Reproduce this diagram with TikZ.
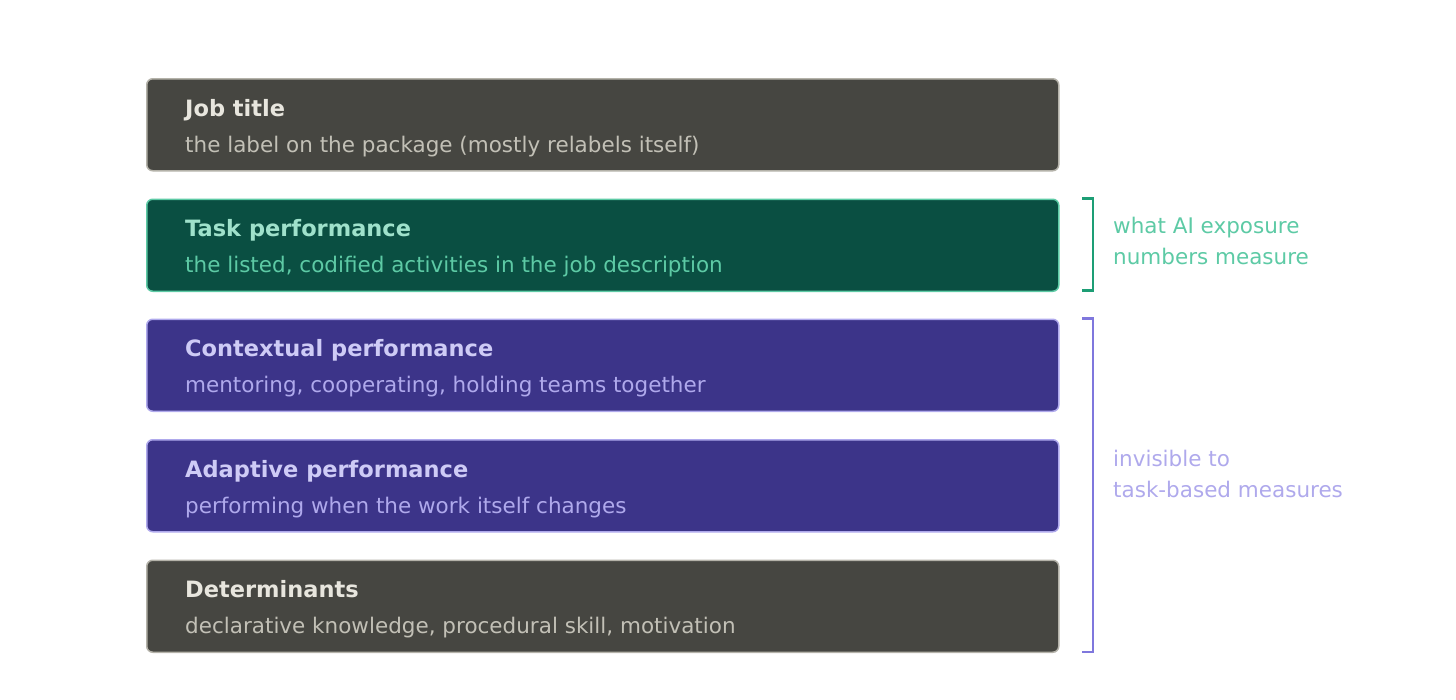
\documentclass[tikz,border=0pt]{standalone}
\usepackage{fontspec}
\setmainfont{DejaVu Sans}
\definecolor{grayfill}{HTML}{464641}
\definecolor{grayline}{HTML}{B4B2A9}
\definecolor{graytitle}{HTML}{E8E6DE}
\definecolor{graysub}{HTML}{C2C0B6}
\definecolor{greenfill}{HTML}{0A4F42}
\definecolor{greenline}{HTML}{5DCAA5}
\definecolor{greentitle}{HTML}{9FE1CB}
\definecolor{greensub}{HTML}{5DCAA5}
\definecolor{purpfill}{HTML}{3C3489}
\definecolor{purpline}{HTML}{AFA9EC}
\definecolor{purptitle}{HTML}{CECBF6}
\definecolor{purpsub}{HTML}{AFA9EC}
\definecolor{greenbr}{HTML}{1D9E75}
\definecolor{purpbr}{HTML}{7F77DD}
\tikzset{
  box/.style={draw, line width=1.5pt, rounded corners=6pt, minimum width=912pt, minimum height=92pt, inner sep=0pt, anchor=north west},
  ttl/.style={anchor=base west, inner sep=0pt, font=\fontsize{22.5}{26}\selectfont\bfseries},
  sub/.style={anchor=base west, inner sep=0pt, font=\fontsize{21.5}{24}\selectfont},
  side/.style={anchor=base west, inner sep=0pt, font=\fontsize{21.5}{24}\selectfont},
  brk/.style={line width=2.5pt}
}
\begin{document}
\begin{tikzpicture}[x=1pt,y=-1pt]
\useasboundingbox (0,0) rectangle (1456,699);
% boxes
\node[box, fill=grayfill, draw=grayline] (b1) at (146,78) {};
\node[box, fill=greenfill, draw=greenline] (b2) at (146,198.5) {};
\node[box, fill=purpfill, draw=purpline] (b3) at (146,318.5) {};
\node[box, fill=purpfill, draw=purpline] (b4) at (146,439) {};
\node[box, fill=grayfill, draw=grayline] (b5) at (146,559.5) {};
% texts
\node[ttl, text=graytitle] (t1) at (185,116) {Job title};
\node[sub, text=graysub] (s1) at (185,152) {the label on the package (mostly relabels itself)};
\node[ttl, text=greentitle] (t2) at (185,236.5) {Task performance};
\node[sub, text=greensub] (s2) at (185,272.5) {the listed, codified activities in the job description};
\node[ttl, text=purptitle] (t3) at (185,356.5) {Contextual performance};
\node[sub, text=purpsub] (s3) at (185,392.5) {mentoring, cooperating, holding teams together};
\node[ttl, text=purptitle] (t4) at (185,477) {Adaptive performance};
\node[sub, text=purpsub] (s4) at (185,513) {performing when the work itself changes};
\node[ttl, text=graytitle] (t5) at (185,597.5) {Determinants};
\node[sub, text=graysub] (s5) at (185,633.5) {declarative knowledge, procedural skill, motivation};
% brackets
\coordinate (g1) at (1082,198.5);
\coordinate (g2) at (1082,290.5);
\coordinate (p1) at (1082,318.5);
\coordinate (p2) at (1082,652);
\draw[brk, draw=greenbr] (g1) -- ++(11,0) |- (g2);
\draw[brk, draw=purpbr] (p1) -- ++(11,0) |- (p2);
% side labels
\node[side, text=greenline] (l1) at (1113,233) {what AI exposure};
\node[side, text=greenline] (l2) at (1113,264) {numbers measure};
\node[side, text=purpline] (l3) at (1113,466) {invisible to};
\node[side, text=purpline] (l4) at (1113,497) {task-based measures};
\end{tikzpicture}
\end{document}
